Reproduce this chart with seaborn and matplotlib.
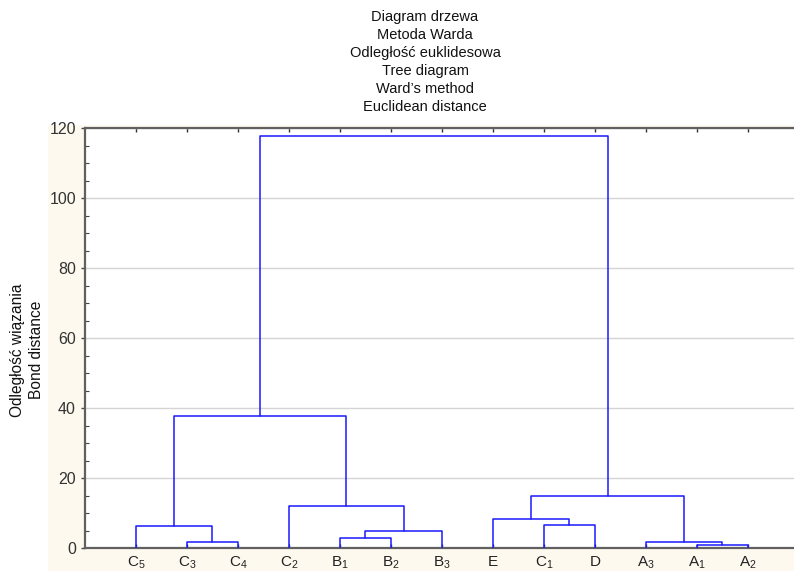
import pandas as pd
import matplotlib.pyplot as plt
import seaborn as sns
from matplotlib.patches import Rectangle
from matplotlib.ticker import MultipleLocator

# Leaves in dendrogram order
leaves = ['C$_5$', 'C$_3$', 'C$_4$', 'C$_2$', 'B$_1$', 'B$_2$', 'B$_3$',
          'E', 'C$_1$', 'D', 'A$_3$', 'A$_1$', 'A$_2$']

# Merges: (left cluster, right cluster, bond distance); new clusters numbered from 13
merge_left = [11, 1, 10, 4, 16, 0, 8, 7, 3, 20, 18, 23]
merge_right = [12, 2, 13, 5, 6, 14, 9, 19, 17, 15, 21, 22]
merge_dist = [0.95, 1.8, 1.8, 2.8, 4.9, 6.2, 6.6, 8.3, 12.1, 14.8, 37.7, 117.7]

title_lines = ["Diagram drzewa", "Metoda Warda", "Odległość euklidesowa",
               "Tree diagram", "Ward\u2019s method", "Euclidean distance"]

sns.set_style("white")
plt.rcParams['font.family'] = ['Liberation Sans', 'DejaVu Sans']
plt.rcParams['mathtext.fontset'] = 'custom'
plt.rcParams['mathtext.rm'] = 'Liberation Sans'
plt.rcParams['mathtext.it'] = 'Liberation Sans'

# Compute dendrogram coordinates from the merge list
pos = {i: i + 1 for i in range(len(leaves))}
hgt = {i: 0.0 for i in range(len(leaves))}
rows = []
for k, (a, b, d) in enumerate(zip(merge_left, merge_right, merge_dist)):
    node = len(leaves) + k
    pts = [(pos[a], hgt[a]), (pos[a], d), (pos[b], d), (pos[b], hgt[b])]
    for x, y in pts:
        rows.append({'link': k, 'x': x, 'y': y})
    pos[node] = (pos[a] + pos[b]) / 2
    hgt[node] = d
df = pd.DataFrame(rows)

fig = plt.figure(figsize=(7.94, 5.74), dpi=100)
fig.patch.set_facecolor('white')
fig.patches.append(Rectangle((48 / 794, 3 / 574), 746 / 794, 446 / 574,
                             transform=fig.transFigure, facecolor='#fef9ee',
                             edgecolor='none', zorder=-5))

ax = fig.add_axes([85 / 794, 26 / 574, 714 / 794, 420 / 574])
ax.set_zorder(2)
ax.set_facecolor('white')

sns.lineplot(data=df, x='x', y='y', units='link', estimator=None, sort=False,
             color='#1a1aff', linewidth=1.1, ax=ax, legend=False, zorder=3)

ax.set_xlim(0, 14)
ax.set_ylim(0, 120)
ax.set_xticks(range(1, len(leaves) + 1))
ax.set_xticklabels(leaves, fontsize=11, color='#222222')
ax.yaxis.set_major_locator(MultipleLocator(20))
ax.yaxis.set_minor_locator(MultipleLocator(5))
ax.tick_params(axis='y', which='major', direction='out', length=3, width=1,
               labelsize=11.5, labelcolor='#333333', color='#444444', left=True)
ax.tick_params(axis='y', which='minor', direction='in', length=3, width=0.8,
               color='#444444', left=True)
ax.tick_params(axis='x', direction='in', length=3, width=1, color='#333333',
               top=True, bottom=True, pad=5)
ax.grid(axis='y', which='major', color='#d4d4d4', linewidth=1)
ax.set_axisbelow(True)
for side in ['left', 'bottom', 'top']:
    ax.spines[side].set_color('#606060')
    ax.spines[side].set_linewidth(1.6)
ax.spines['right'].set_visible(False)
ax.set_xlabel('')
ax.set_ylabel('')

fig.text(425 / 794, 1 - 10 / 574, "\n".join(title_lines), ha='center', va='top',
         fontsize=10.5, color='#111111', linespacing=1.36)
fig.text(27 / 794, 1 - 350 / 574, "Odległość wiązania\nBond distance",
         rotation=90, ha='center', va='center', fontsize=11.2, color='#111111',
         linespacing=1.4, multialignment='center')

fig.savefig('out.png', dpi=100)
